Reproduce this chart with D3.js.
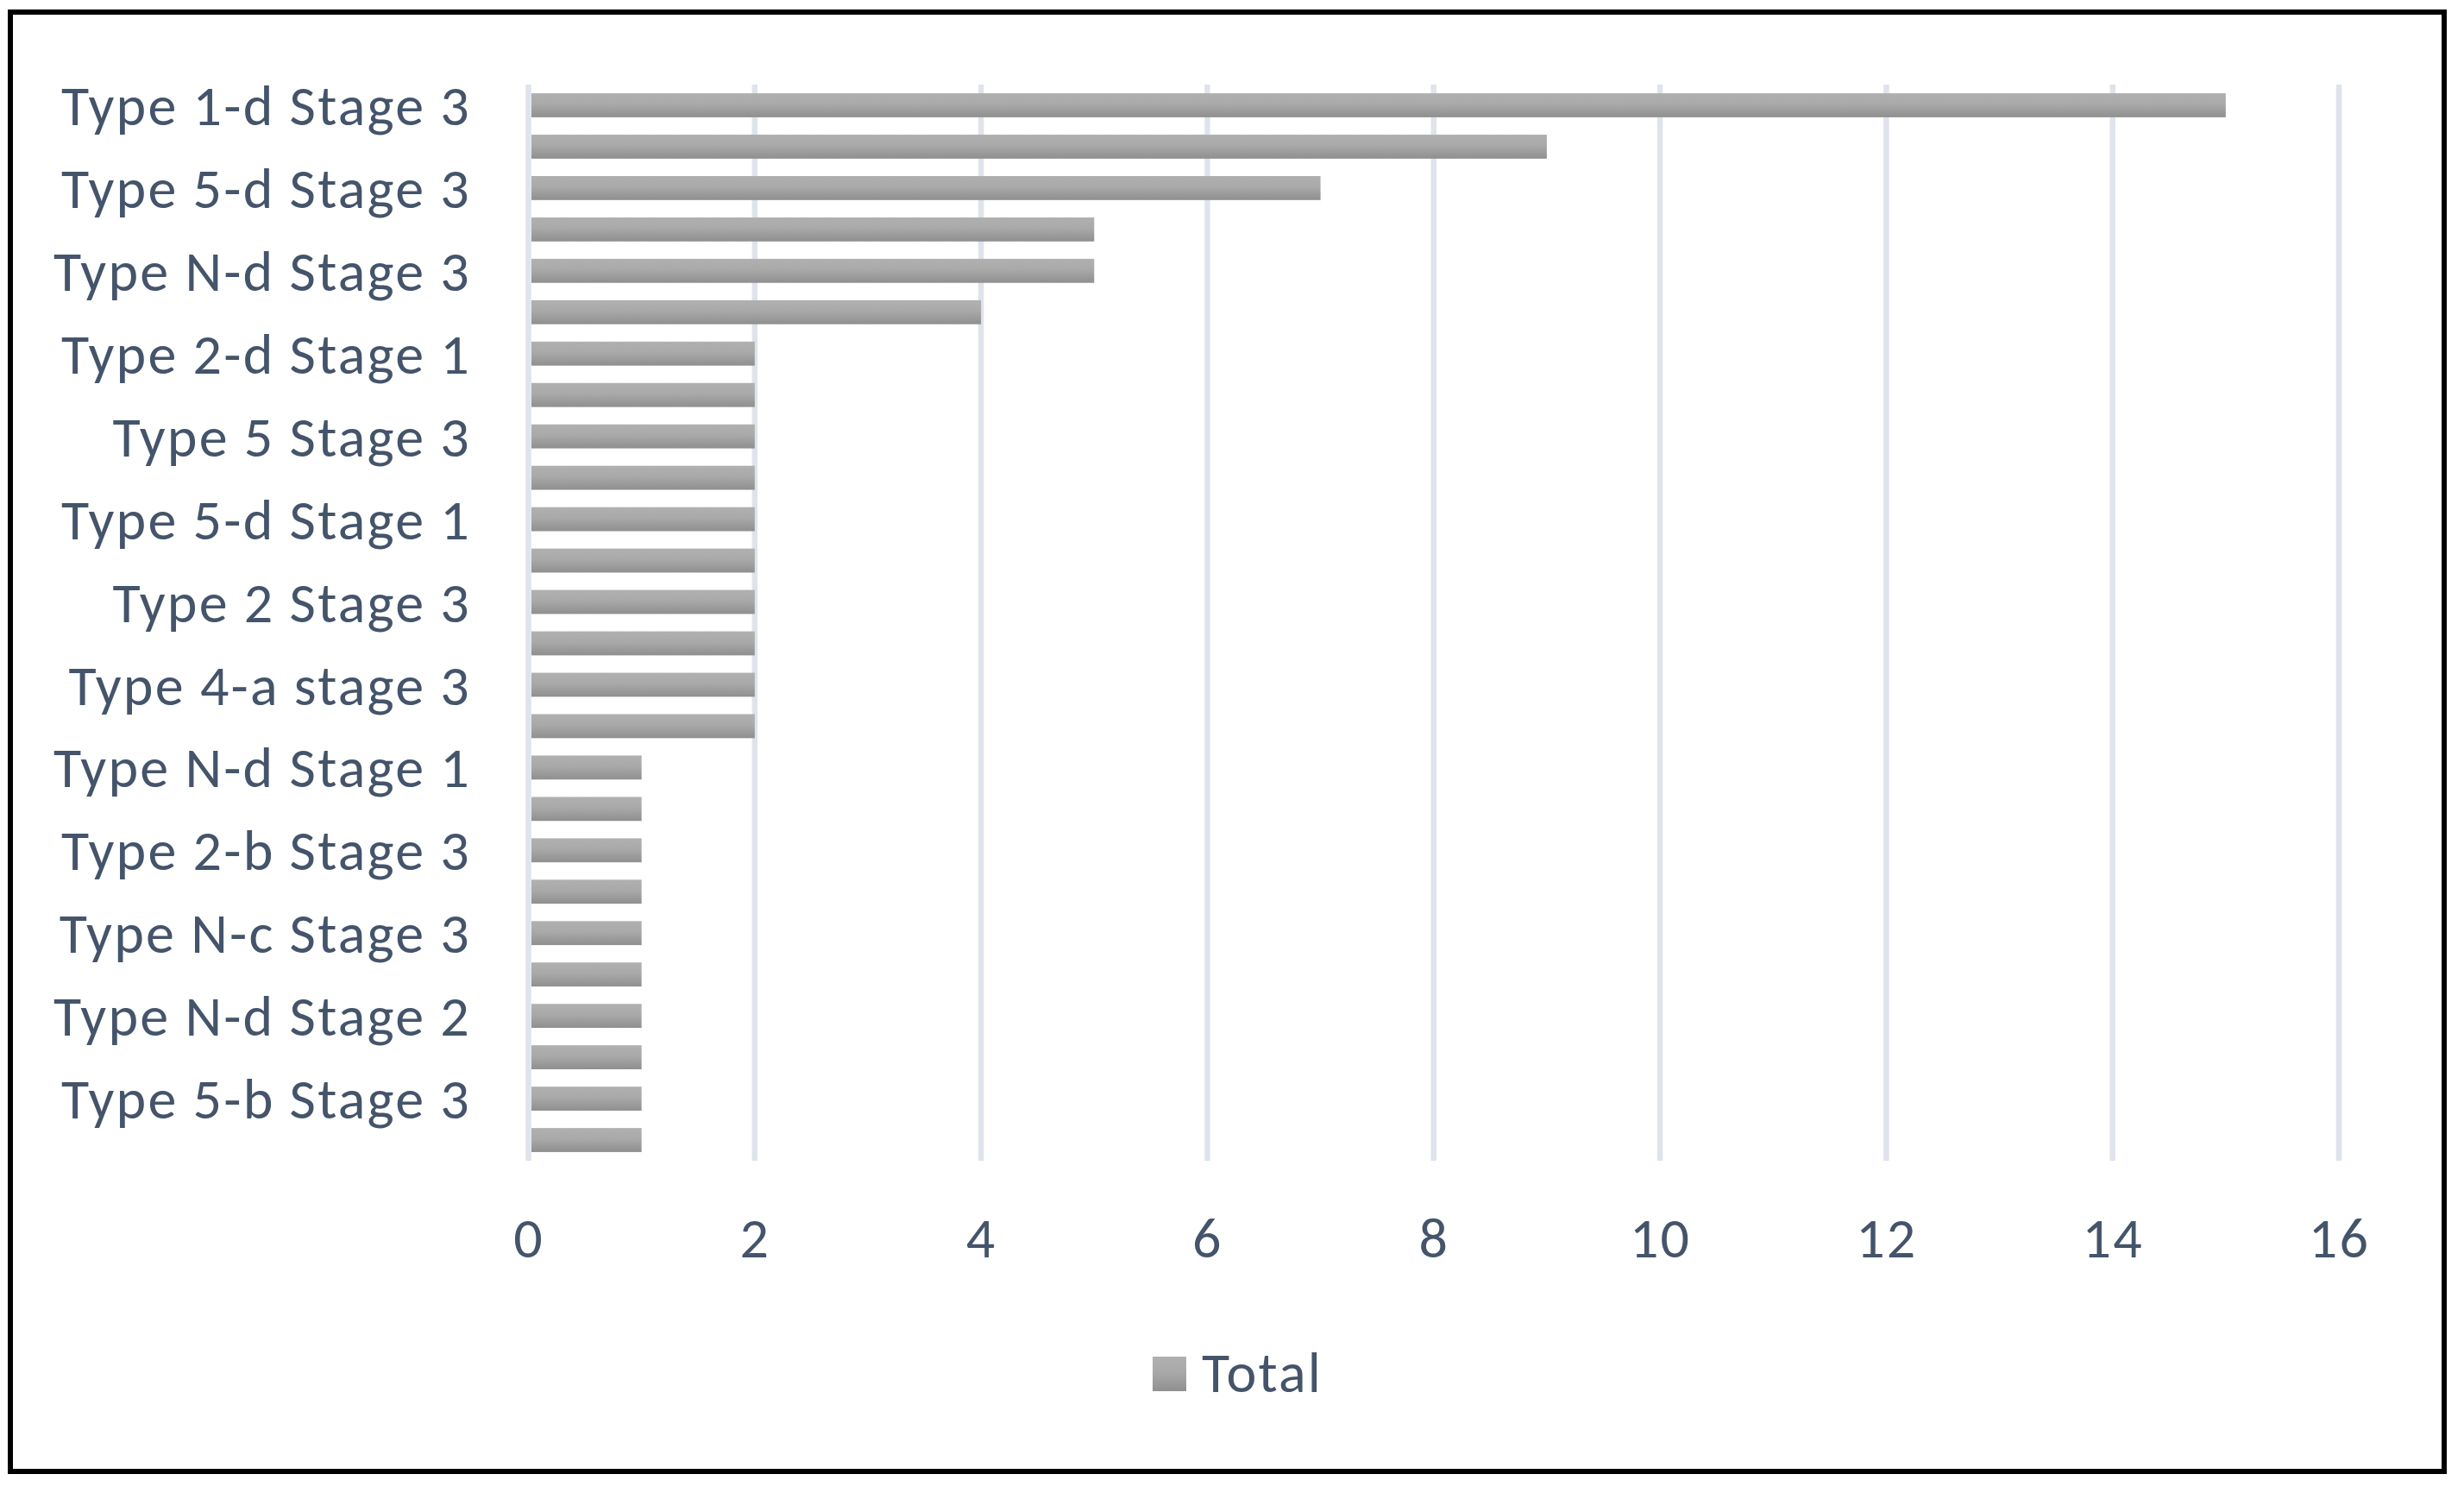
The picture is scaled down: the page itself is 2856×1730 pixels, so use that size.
<!DOCTYPE html>
<html>
<head>
<meta charset="utf-8">
<script src="https://cdn.jsdelivr.net/npm/d3@7"></script>
<style>
  html, body { margin: 0; padding: 0; background: #fff; }
  text { font-family: Carlito, Lato, "Liberation Sans", sans-serif; }
</style>
</head>
<body>
<div id="chart"></div>
<script>
// category labels, top to bottom; null = label Excel skipped
const categories = [
  "Type 1-d Stage 3", null, "Type 5-d Stage 3", null, "Type N-d Stage 3", null,
  "Type 2-d Stage 1", null, "Type 5 Stage 3", null, "Type 5-d Stage 1", null,
  "Type 2 Stage 3", null, "Type 4-a stage 3", null, "Type N-d Stage 1", null,
  "Type 2-b Stage 3", null, "Type N-c Stage 3", null, "Type N-d Stage 2", null,
  "Type 5-b Stage 3", null
];
const totals = [15, 9, 7, 5, 5, 4, 2, 2, 2, 2, 2, 2, 2, 2, 2, 2, 1, 1, 1, 1, 1, 1, 1, 1, 1, 1];
const xTicks = [0, 2, 4, 6, 8, 10, 12, 14, 16];
const seriesName = "Total";

const width = 2856, height = 1730;
const textColor = "#44546A";
const fontSize = "66px", spacing = "2.2px";

const svg = d3.select("#chart").append("svg")
    .attr("width", width)
    .attr("height", height);

// bar gradient
const grad = svg.append("defs").append("linearGradient")
    .attr("id", "barGrad")
    .attr("x1", 0).attr("y1", 0).attr("x2", 0).attr("y2", 1);
grad.append("stop").attr("offset", "0%").attr("stop-color", "#b0b0b0");
grad.append("stop").attr("offset", "45%").attr("stop-color", "#a9a9a9");
grad.append("stop").attr("offset", "100%").attr("stop-color", "#8f8f8f");

// outer frame
svg.append("rect")
    .attr("x", 12).attr("y", 14)
    .attr("width", 2821).attr("height", 1691)
    .attr("fill", "#fff")
    .attr("stroke", "#000")
    .attr("stroke-width", 6);

const x = d3.scaleLinear()
    .domain([0, 16])
    .range([612.5, 2711]);

const y = d3.scaleBand()
    .domain(d3.range(totals.length))
    .range([98, 1345])
    .paddingInner(0.42)
    .paddingOuter(0.21);

// vertical gridlines
svg.append("g")
    .selectAll("line")
    .data(xTicks)
    .join("line")
    .attr("x1", d => x(d)).attr("x2", d => x(d))
    .attr("y1", 98).attr("y2", 1345)
    .attr("stroke", "#dfe3eb")
    .attr("stroke-width", 6.5);

// bars
svg.append("g")
    .selectAll("rect")
    .data(totals)
    .join("rect")
    .attr("x", x(0) + 3.5)
    .attr("y", (d, i) => y(i))
    .attr("width", d => x(d) - x(0) - 3.5)
    .attr("height", y.bandwidth())
    .attr("fill", "url(#barGrad)");

// category axis
const yAxis = svg.append("g")
    .attr("transform", "translate(546,0)")
    .call(d3.axisLeft(y).tickSize(0).tickPadding(0)
        .tickFormat(i => categories[i] || ""));
yAxis.select(".domain").remove();
yAxis.selectAll("text")
    .attr("fill", textColor)
    .style("font-size", fontSize)
    .style("letter-spacing", spacing)
    .attr("dy", "0.35em");

// value axis
const xAxis = svg.append("g")
    .attr("transform", "translate(0,1410)")
    .call(d3.axisBottom(x).tickValues(xTicks).tickSize(0).tickPadding(0));
xAxis.select(".domain").remove();
xAxis.selectAll("text")
    .attr("fill", textColor)
    .style("font-size", fontSize)
    .style("letter-spacing", spacing)
    .attr("y", 47)
    .attr("dy", 0);

// legend
const legend = svg.append("g");
legend.append("rect")
    .attr("x", 1336).attr("y", 1572)
    .attr("width", 39).attr("height", 40)
    .attr("fill", "url(#barGrad)");
legend.append("text")
    .attr("x", 1393).attr("y", 1613)
    .attr("fill", textColor)
    .style("font-size", fontSize)
    .style("letter-spacing", spacing)
    .text(seriesName);
</script>
</body>
</html>
